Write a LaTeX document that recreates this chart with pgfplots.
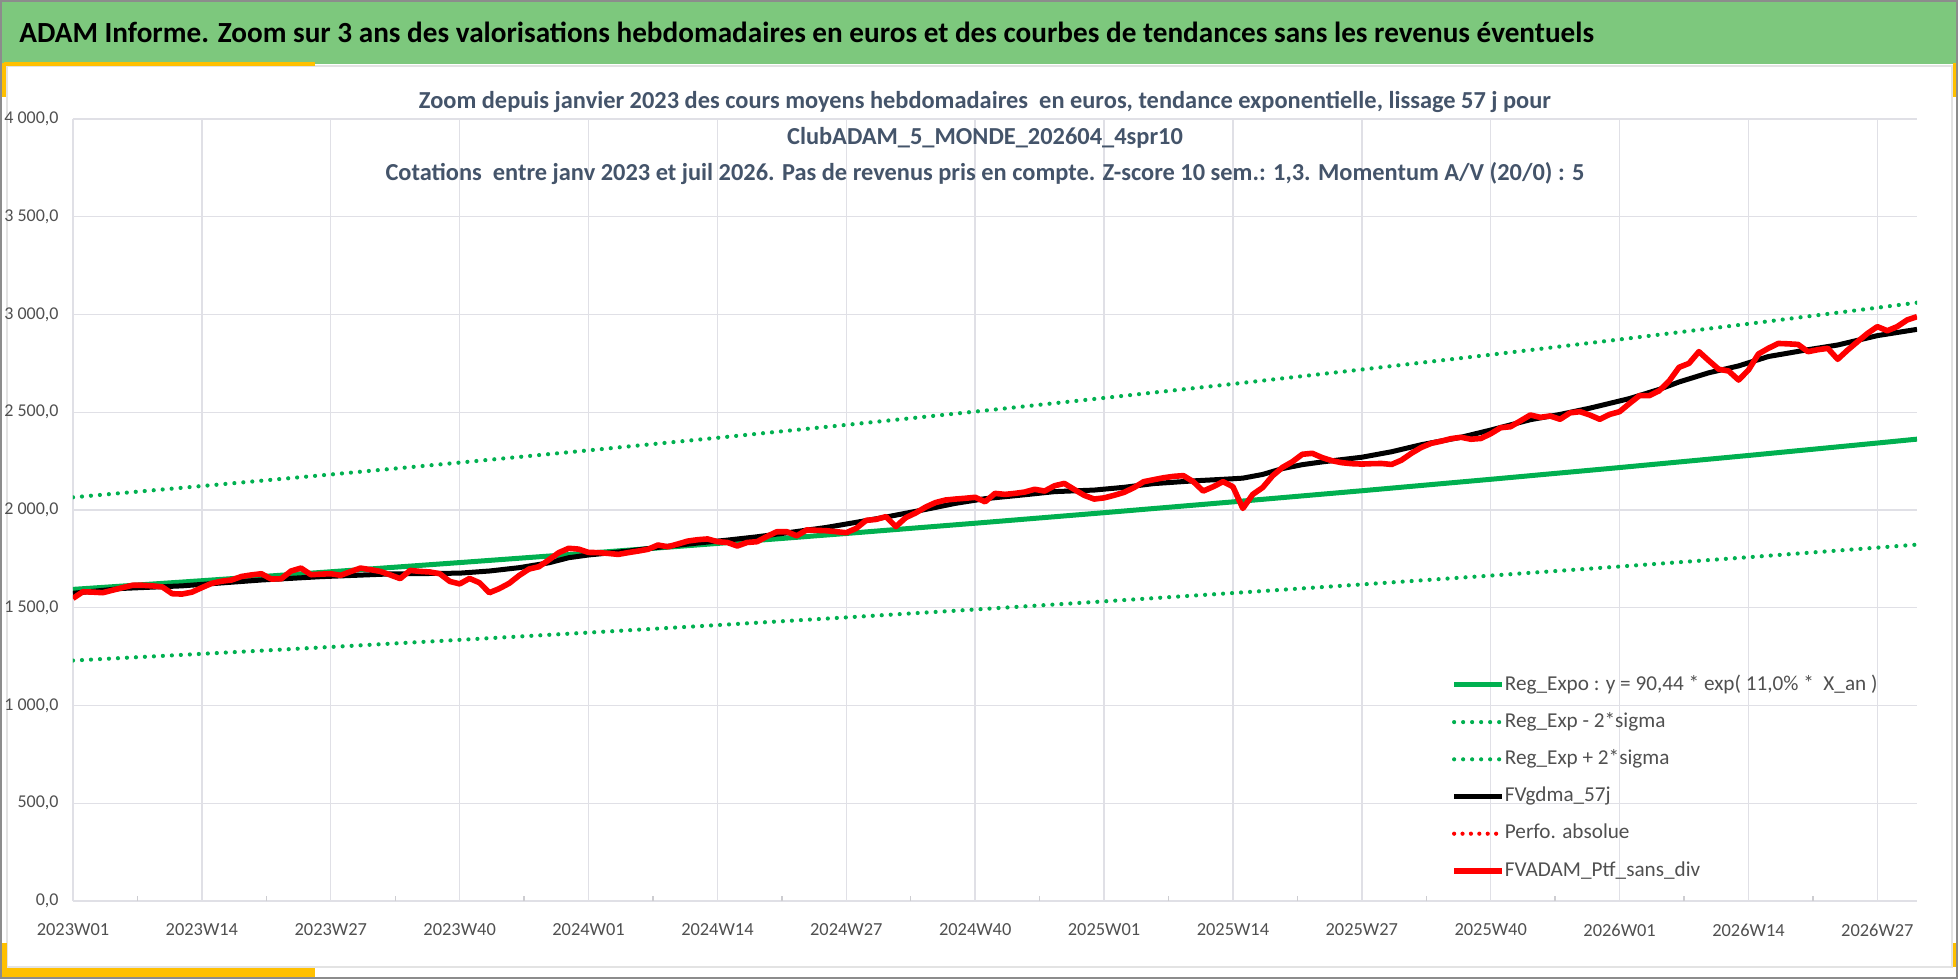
\documentclass[border=0pt]{standalone}
\usepackage{fontspec}
\setmainfont{Carlito}
\usepackage{pgfplots}
\pgfplotsset{compat=1.18}
\definecolor{hdrgreen}{HTML}{7DC87D}
\definecolor{accent}{HTML}{FFC000}
\definecolor{gridc}{HTML}{E0E0E6}
\definecolor{titlec}{HTML}{44546A}
\definecolor{labc}{HTML}{505050}
\definecolor{regc}{HTML}{00B050}
\definecolor{bordc}{HTML}{8C8C8C}
\definecolor{panelc}{HTML}{E3E3E3}

\pgfplotstableread{
w v
0 1594
13 1638.4
26 1684.1
39 1731.1
52 1779.3
65 1829.0
78 1880.0
91 1932.4
104 1986.3
117 2041.6
130 2098.5
143 2157.1
156 2217.2
169 2279.0
182 2342.6
186 2362.5
}\regexpo
\pgfplotstableread{
w v
0 1230
13 1264.3
26 1299.5
39 1335.8
52 1373.0
65 1411.3
78 1450.7
91 1491.1
104 1532.7
117 1575.4
130 1619.3
143 1664.5
156 1710.9
169 1758.6
182 1807.6
186 1823.0
}\reglow
\pgfplotstableread{
w v
0 2065
13 2122.6
26 2181.8
39 2242.6
52 2305.1
65 2369.4
78 2435.5
91 2503.4
104 2573.2
117 2644.9
130 2718.6
143 2794.4
156 2872.4
169 2952.4
182 3034.8
186 3060.6
}\reghigh
\pgfplotstableread{
w v
0 1574
5 1599
11 1612
19 1642
25 1659
32 1673
39 1677
42 1688
45 1705
48 1730
50 1756
52 1770
56 1790
59 1809
63 1831
66 1846
69 1863
73 1890
76 1911
79 1937
82 1964
86 2003
89 2034
92 2058
96 2078
99 2094
103 2102
106 2116
109 2135
113 2149
116 2157
118 2163
120 2182
122 2212
124 2232
126 2246
130 2270
133 2298
136 2334
140 2372
143 2409
147 2462
150 2489
153 2521
157 2570
160 2617
162 2655
165 2702
168 2737
171 2785
175 2820
178 2844
182 2892
186 2924
}\gdma
\pgfplotstableread{
w v
0 1548
1 1582
2 1580
3 1577
4 1590
5 1603
6 1615
7 1615
8 1612
9 1607
10 1572
11 1570
12 1580
13 1603
14 1625
15 1636
16 1642
17 1660
18 1668
19 1674
20 1647
21 1648
22 1688
23 1703
24 1669
25 1672
26 1674
27 1666
28 1685
29 1703
30 1695
31 1686
32 1668
33 1649
34 1691
35 1686
36 1683
37 1674
38 1635
39 1622
40 1650
41 1628
42 1577
43 1598
44 1625
45 1665
46 1698
47 1710
48 1745
49 1782
50 1804
51 1800
52 1783
53 1782
54 1778
55 1773
56 1782
57 1790
58 1799
59 1821
60 1812
61 1826
62 1841
63 1848
64 1852
65 1838
66 1834
67 1816
68 1834
69 1838
70 1865
71 1889
72 1889
73 1868
74 1898
75 1896
76 1894
77 1889
78 1884
79 1906
80 1947
81 1952
82 1966
83 1915
84 1961
85 1985
86 2015
87 2038
88 2051
89 2056
90 2060
91 2065
92 2042
93 2085
94 2080
95 2085
96 2092
97 2106
98 2097
99 2124
100 2136
101 2105
102 2075
103 2056
104 2062
105 2075
106 2090
107 2114
108 2145
109 2155
110 2165
111 2172
112 2176
113 2145
114 2097
115 2119
116 2145
117 2119
118 2008
119 2080
120 2115
121 2175
122 2218
123 2247
124 2285
125 2290
126 2268
127 2252
128 2242
129 2237
130 2235
131 2237
132 2238
133 2233
134 2255
135 2290
136 2320
137 2341
138 2352
139 2365
140 2372
141 2362
142 2366
143 2390
144 2421
145 2426
146 2456
147 2486
148 2474
149 2481
150 2464
151 2497
152 2503
153 2486
154 2464
155 2489
156 2503
157 2545
158 2585
159 2585
160 2610
161 2660
162 2730
163 2750
164 2810
165 2764
166 2720
167 2711
168 2665
169 2716
170 2798
171 2827
172 2852
173 2850
174 2847
175 2810
176 2820
177 2827
178 2771
179 2818
180 2861
181 2903
182 2938
183 2917
184 2938
185 2972
186 2989
}\ptf

\begin{document}
\begin{tikzpicture}
\useasboundingbox (0,0) rectangle (979bp,-489.5bp);
\begin{scope}[x=0.5bp,y=-0.5bp]
  \fill[white] (0,0) rectangle (1958,979);
  \fill[hdrgreen] (0,0) rectangle (1958,64);
  \draw[panelc, line width=0.75bp] (7,66) rectangle (1952,967);
  \fill[accent] (4,62.5) rectangle (315,66.5);
  \fill[accent] (0,63) rectangle (6,97);
  \fill[accent] (0,943) rectangle (7,977);
  \fill[accent] (0,968) rectangle (315,977);
  \fill[accent] (1953,63) rectangle (1958,97);
  \fill[accent] (1953,943) rectangle (1958,967);
  \draw[bordc, line width=1bp] (1,1) rectangle (1957,978);
  \node[anchor=base west, inner sep=0pt, font=\bfseries\fontsize{14.6bp}{16bp}\selectfont, text=black]
    at (19,42.5) {ADAM Informe. Zoom sur 3 ans des valorisations hebdomadaires en euros et des courbes de tendances sans les revenus éventuels};
\end{scope}
\begin{axis}[
  at={(36.5bp,-450.5bp)}, anchor=south west,
  scale only axis, width=922bp, height=391bp,
  xmin=0, xmax=186, ymin=0, ymax=4000,
  axis line style={draw=none},
  grid=major, major grid style={gridc, line width=0.7bp},
  xtick={0,13,...,182},
  xticklabels={2023W01,2023W14,2023W27,2023W40,2024W01,2024W14,2024W27,2024W40,2025W01,2025W14,2025W27,2025W40,2026W01,2026W14,2026W27},
  minor xtick={6.5,19.5,...,175.5},
  ytick={0,500,...,4000},
  yticklabels={{0,0},{500,0},{1 000,0},{1 500,0},{2 000,0},{2 500,0},{3 000,0},{3 500,0},{4 000,0}},
  tick pos=left, tick align=inside,
  major tick length=0pt, minor tick length=2.5bp,
  minor tick style={color=gridc!80!gray, line width=0.7bp},
  xticklabel style={anchor=center, yshift=-14.5bp, inner sep=0pt, font=\fontsize{9.2bp}{10bp}\selectfont, text=labc},
  yticklabel style={anchor=east, xshift=-7bp, inner sep=0pt, font=\fontsize{9bp}{10bp}\selectfont, text=labc},
  legend style={draw=none, fill=none, at={(0.7440,0.295)}, anchor=north west,
    font=\fontsize{10.6bp}{12bp}\selectfont, text=labc, row sep=8.4bp,
    nodes={inner sep=0pt, text height=7.7bp, text depth=2.5bp}},
  legend cell align=left,
  legend image code/.code={\draw[#1] (0bp,0bp) -- (24bp,0bp);},
  /tikz/every even column/.append style={column sep=2.5bp},
]
\addplot[regc, line width=2.5bp, no marks] table[x=w,y=v] {\regexpo};
\addlegendentry{Reg\_Expo : y = 90,44 * exp( 11,0\% *\ \ X\_an )}
\addplot[regc, line width=2.1bp, line cap=round, dash pattern=on 0bp off 4.5bp, no marks] table[x=w,y=v] {\reglow};
\addlegendentry{Reg\_Exp - 2*sigma}
\addplot[regc, line width=2.1bp, line cap=round, dash pattern=on 0bp off 4.5bp, no marks] table[x=w,y=v] {\reghigh};
\addlegendentry{Reg\_Exp + 2*sigma}
\addplot[black, line width=2.5bp, no marks] table[x=w,y=v] {\gdma};
\addlegendentry{FVgdma\_57j}
\addlegendimage{red, line width=2.1bp, line cap=round, dash pattern=on 0bp off 4.2bp}
\addlegendentry{Perfo. absolue}
\addplot[red, line width=2.8bp, line join=round, no marks] table[x=w,y=v] {\ptf};
\addlegendentry{FVADAM\_Ptf\_sans\_div}
\end{axis}
\begin{scope}[x=0.5bp,y=-0.5bp, every node/.style={anchor=base, inner sep=0pt, font=\bfseries\fontsize{12.2bp}{14bp}\selectfont, text=titlec}]
  \node at (985,109) {Zoom depuis janvier 2023 des cours moyens hebdomadaires\ \ en euros, tendance exponentielle, lissage 57 j pour};
  \node at (985,145) {ClubADAM\_5\_MONDE\_202604\_4spr10};
  \node at (985,181) {Cotations\ \ entre janv 2023 et juil 2026. Pas de revenus pris en compte. Z-score 10 sem.: 1,3. Momentum A/V (20/0) : 5};
\end{scope}
\end{tikzpicture}
\end{document}
